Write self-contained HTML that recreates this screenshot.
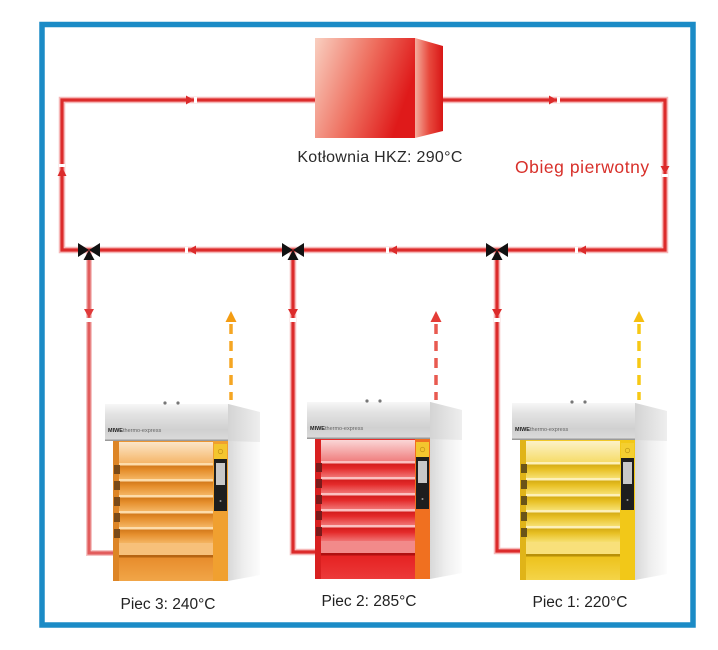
<!DOCTYPE html>
<html><head><meta charset="utf-8"><style>
html,body{margin:0;padding:0;background:#fff;}
svg{display:block;}
text{font-family:"Liberation Sans",sans-serif;}
</style></head><body>
<svg width="718" height="650" viewBox="0 0 718 650" xmlns="http://www.w3.org/2000/svg">
<defs>
  <linearGradient id="bf" x1="0" y1="0" x2="1" y2="0.35">
    <stop offset="0" stop-color="#f9cfc0"/><stop offset="0.55" stop-color="#ee6e5e"/><stop offset="1" stop-color="#df1a1a"/>
  </linearGradient>
  <linearGradient id="bs" x1="0" y1="0" x2="1" y2="0">
    <stop offset="0" stop-color="#f4ae9e"/><stop offset="0.5" stop-color="#e84a3e"/><stop offset="1" stop-color="#d81616"/>
  </linearGradient>
  <linearGradient id="hood" x1="0" y1="0" x2="0" y2="1">
    <stop offset="0" stop-color="#f7f7f7"/><stop offset="0.25" stop-color="#e4e4e4"/><stop offset="0.7" stop-color="#d0d0d0"/><stop offset="1" stop-color="#dcdcdc"/>
  </linearGradient>
  <linearGradient id="hoodside" x1="0" y1="0" x2="1" y2="0">
    <stop offset="0" stop-color="#d4d4d4"/><stop offset="1" stop-color="#eeeeee"/>
  </linearGradient>
  <linearGradient id="side" x1="0" y1="0" x2="1" y2="0">
    <stop offset="0" stop-color="#d8d8d8"/><stop offset="0.5" stop-color="#efefef"/><stop offset="1" stop-color="#fcfcfc"/>
  </linearGradient>
  <linearGradient id="o3top" x1="0" y1="0" x2="0" y2="1"><stop offset="0" stop-color="#fce6c8"/><stop offset="1" stop-color="#f5b66a"/></linearGradient>
  <linearGradient id="o3deck" x1="0" y1="0" x2="0" y2="1"><stop offset="0" stop-color="#c96d12"/><stop offset="0.45" stop-color="#e58e2c"/><stop offset="1" stop-color="#f4b462"/></linearGradient>
  <linearGradient id="o3bot" x1="0" y1="0" x2="0" y2="1"><stop offset="0" stop-color="#e78c2c"/><stop offset="1" stop-color="#f1a648"/></linearGradient>
  <linearGradient id="o2top" x1="0" y1="0" x2="0" y2="1"><stop offset="0" stop-color="#fad6d6"/><stop offset="1" stop-color="#f08080"/></linearGradient>
  <linearGradient id="o2deck" x1="0" y1="0" x2="0" y2="1"><stop offset="0" stop-color="#c81414"/><stop offset="0.45" stop-color="#e42a2a"/><stop offset="1" stop-color="#f07272"/></linearGradient>
  <linearGradient id="o2bot" x1="0" y1="0" x2="0" y2="1"><stop offset="0" stop-color="#e52222"/><stop offset="1" stop-color="#ec3a3a"/></linearGradient>
  <linearGradient id="o1top" x1="0" y1="0" x2="0" y2="1"><stop offset="0" stop-color="#fcf2c8"/><stop offset="1" stop-color="#f6dc6a"/></linearGradient>
  <linearGradient id="o1deck" x1="0" y1="0" x2="0" y2="1"><stop offset="0" stop-color="#caa00c"/><stop offset="0.45" stop-color="#e8c024"/><stop offset="1" stop-color="#f6e070"/></linearGradient>
  <linearGradient id="o1bot" x1="0" y1="0" x2="0" y2="1"><stop offset="0" stop-color="#edc21c"/><stop offset="1" stop-color="#f4d448"/></linearGradient>
</defs>

<rect x="42" y="24.5" width="651" height="600.5" fill="none" stroke="#1b8bc6" stroke-width="5.5"/>

<g fill="none" stroke="#f6b8b8" stroke-width="6.5" stroke-linejoin="miter">
  <path d="M316 100 H62 V250 H665 V100 H443"/>
  <path d="M293 250 V552 H315"/>
  <path d="M497 250 V551 H520"/>
</g>
<g fill="none" stroke="#f4c4c4" stroke-width="6">
  <path d="M89 250 V553 H113"/>
</g>
<g fill="none" stroke="#dc2b2b" stroke-width="3.2" stroke-linejoin="miter">
  <path d="M316 100 H62 V250 H665 V100 H443"/>
  <path d="M293 250 V552 H315"/>
  <path d="M497 250 V551 H520"/>
</g>
<path d="M89 250 V553 H113" fill="none" stroke="#e25d5d" stroke-width="3.2"/>

<g fill="#dc2b2b">
  <rect x="194" y="97" width="3" height="6" fill="#fff"/>
  <polygon points="186,95.5 194,100 186,104.5"/>
  <rect x="557" y="97" width="3" height="6" fill="#fff"/>
  <polygon points="549,95.5 557,100 549,104.5"/>
  <rect x="59" y="164" width="6" height="3" fill="#fff"/>
  <polygon points="57.5,176 66.5,176 62,167"/>
  <rect x="662" y="174" width="6" height="3" fill="#fff"/>
  <polygon points="660.5,166 669.5,166 665,174"/>
  <rect x="185" y="247" width="3" height="6" fill="#fff"/>
  <polygon points="196,245.5 188,250 196,254.5"/>
  <rect x="386" y="247" width="3" height="6" fill="#fff"/>
  <polygon points="397,245.5 389,250 397,254.5"/>
  <rect x="575" y="247" width="3" height="6" fill="#fff"/>
  <polygon points="586,245.5 578,250 586,254.5"/>
  <rect x="86" y="318" width="6" height="4" fill="#fff"/>
  <polygon points="84,309 94,309 89,318" fill="#e03a3a"/>
  <rect x="290" y="318" width="6" height="4" fill="#fff"/>
  <polygon points="288,309 298,309 293,318"/>
  <rect x="494" y="318" width="6" height="4" fill="#fff"/>
  <polygon points="492,309 502,309 497,318"/>
</g>

<g fill="#111">
  <polygon points="78,243 78,257 89,250"/><polygon points="100,243 100,257 89,250"/><polygon points="89,250 83.5,260 94.5,260"/>
  <polygon points="282,243 282,257 293,250"/><polygon points="304,243 304,257 293,250"/><polygon points="293,250 287.5,260 298.5,260"/>
  <polygon points="486,243 486,257 497,250"/><polygon points="508,243 508,257 497,250"/><polygon points="497,250 491.5,260 502.5,260"/>
</g>

<polygon points="415,38 443,46 443,131 415,138" fill="url(#bs)"/>
<rect x="315" y="38" width="100" height="100" fill="url(#bf)"/>
<text x="380" y="162" font-size="16" fill="#2a2a2a" text-anchor="middle" letter-spacing="0.3">Kotłownia HKZ: 290°C</text>
<text x="515" y="173" font-size="17.5" fill="#d8302a" letter-spacing="0.55">Obieg pierwotny</text>

<path d="M231 324 V400" stroke="#f5a623" stroke-width="3.5" stroke-dasharray="10 7" fill="none"/>
<polygon points="225.5,322 236.5,322 231,311" fill="#f39c12"/>
<path d="M436 324 V400" stroke="#e85a50" stroke-width="3.5" stroke-dasharray="10 7" fill="none"/>
<polygon points="430.5,322 441.5,322 436,311" fill="#e43c36"/>
<path d="M639 324 V400" stroke="#f7c815" stroke-width="3.5" stroke-dasharray="10 7" fill="none"/>
<polygon points="633.5,322 644.5,322 639,311" fill="#f5be10"/>

<g transform="translate(105,404)">
  <polygon points="123,0 155,8 155,171 123,177" fill="url(#side)"/>
  <polygon points="123,0 155,8 155,38 123,37" fill="url(#hoodside)"/>
  <rect x="0" y="0" width="123" height="37" fill="url(#hood)"/>
  <rect x="0" y="35.5" width="123" height="1.5" fill="#9a9a9a"/>
  <circle cx="60" cy="-1" r="1.6" fill="#777"/><circle cx="73" cy="-1" r="1.6" fill="#777"/>
  <text x="3" y="28" font-size="5.5" fill="#666"><tspan font-weight="bold" fill="#222">MIWE</tspan>thermo-express</text>
  <rect x="8" y="37" width="100" height="140" fill="#eb9632"/>
  <rect x="8" y="37" width="6" height="140" fill="#dd8526"/>
  <rect x="14" y="38" width="94" height="21" fill="url(#o3top)"/>
  <g>
    <rect x="14" y="59" width="94" height="16" fill="url(#o3deck)"/><rect x="14" y="59" width="94" height="2.5" fill="#fddcaa"/><rect x="9" y="61" width="6" height="9" fill="#7a4a18"/>
    <rect x="14" y="75" width="94" height="16" fill="url(#o3deck)"/><rect x="14" y="75" width="94" height="2.5" fill="#fddcaa"/><rect x="9" y="77" width="6" height="9" fill="#7a4a18"/>
    <rect x="14" y="91" width="94" height="16" fill="url(#o3deck)"/><rect x="14" y="91" width="94" height="2.5" fill="#fddcaa"/><rect x="9" y="93" width="6" height="9" fill="#7a4a18"/>
    <rect x="14" y="107" width="94" height="16" fill="url(#o3deck)"/><rect x="14" y="107" width="94" height="2.5" fill="#fddcaa"/><rect x="9" y="109" width="6" height="9" fill="#7a4a18"/>
    <rect x="14" y="123" width="94" height="16" fill="url(#o3deck)"/><rect x="14" y="123" width="94" height="2.5" fill="#fddcaa"/><rect x="9" y="125" width="6" height="9" fill="#7a4a18"/>
  </g>
  <rect x="14" y="139" width="94" height="12" fill="#f7c07a"/>
  <rect x="14" y="151" width="94" height="2.5" fill="#b66412"/>
  <rect x="14" y="153.5" width="94" height="23.5" fill="url(#o3bot)"/>
  <rect x="108" y="37" width="15" height="140" fill="#f0a030"/>
  <rect x="109" y="40" width="13" height="15" fill="#f4c52e"/>
  <circle cx="115.5" cy="47.5" r="2.2" fill="none" stroke="#c8981a" stroke-width="0.8"/>
  <rect x="109" y="55" width="13" height="52" fill="#1e1e1e"/>
  <rect x="111" y="59" width="9" height="22" fill="#c8c8c8"/>
  <circle cx="115.5" cy="97" r="1" fill="#999"/>
</g>

<g transform="translate(307,402)">
  <polygon points="123,0 155,8 155,171 123,177" fill="url(#side)"/>
  <polygon points="123,0 155,8 155,38 123,37" fill="url(#hoodside)"/>
  <rect x="0" y="0" width="123" height="37" fill="url(#hood)"/>
  <rect x="0" y="35.5" width="123" height="1.5" fill="#9a9a9a"/>
  <circle cx="60" cy="-1" r="1.6" fill="#777"/><circle cx="73" cy="-1" r="1.6" fill="#777"/>
  <text x="3" y="28" font-size="5.5" fill="#666"><tspan font-weight="bold" fill="#222">MIWE</tspan>thermo-express</text>
  <rect x="8" y="37" width="100" height="140" fill="#e6302c"/>
  <rect x="8" y="37" width="6" height="140" fill="#d82020"/>
  <rect x="14" y="38" width="94" height="21" fill="url(#o2top)"/>
  <g>
    <rect x="14" y="59" width="94" height="16" fill="url(#o2deck)"/><rect x="14" y="59" width="94" height="2.5" fill="#fbc0c0"/><rect x="9" y="61" width="6" height="9" fill="#7a1a1a"/>
    <rect x="14" y="75" width="94" height="16" fill="url(#o2deck)"/><rect x="14" y="75" width="94" height="2.5" fill="#fbc0c0"/><rect x="9" y="77" width="6" height="9" fill="#7a1a1a"/>
    <rect x="14" y="91" width="94" height="16" fill="url(#o2deck)"/><rect x="14" y="91" width="94" height="2.5" fill="#fbc0c0"/><rect x="9" y="93" width="6" height="9" fill="#7a1a1a"/>
    <rect x="14" y="107" width="94" height="16" fill="url(#o2deck)"/><rect x="14" y="107" width="94" height="2.5" fill="#fbc0c0"/><rect x="9" y="109" width="6" height="9" fill="#7a1a1a"/>
    <rect x="14" y="123" width="94" height="16" fill="url(#o2deck)"/><rect x="14" y="123" width="94" height="2.5" fill="#fbc0c0"/><rect x="9" y="125" width="6" height="9" fill="#7a1a1a"/>
  </g>
  <rect x="14" y="139" width="94" height="12" fill="#f28a8a"/>
  <rect x="14" y="151" width="94" height="2.5" fill="#b01010"/>
  <rect x="14" y="153.5" width="94" height="23.5" fill="url(#o2bot)"/>
  <rect x="108" y="37" width="15" height="140" fill="#f07020"/>
  <rect x="109" y="40" width="13" height="15" fill="#f4c52e"/>
  <circle cx="115.5" cy="47.5" r="2.2" fill="none" stroke="#c8981a" stroke-width="0.8"/>
  <rect x="109" y="55" width="13" height="52" fill="#1e1e1e"/>
  <rect x="111" y="59" width="9" height="22" fill="#c8c8c8"/>
  <circle cx="115.5" cy="97" r="1" fill="#999"/>
</g>

<g transform="translate(512,403)">
  <polygon points="123,0 155,8 155,171 123,177" fill="url(#side)"/>
  <polygon points="123,0 155,8 155,38 123,37" fill="url(#hoodside)"/>
  <rect x="0" y="0" width="123" height="37" fill="url(#hood)"/>
  <rect x="0" y="35.5" width="123" height="1.5" fill="#9a9a9a"/>
  <circle cx="60" cy="-1" r="1.6" fill="#777"/><circle cx="73" cy="-1" r="1.6" fill="#777"/>
  <text x="3" y="28" font-size="5.5" fill="#666"><tspan font-weight="bold" fill="#222">MIWE</tspan>thermo-express</text>
  <rect x="8" y="37" width="100" height="140" fill="#f0c828"/>
  <rect x="8" y="37" width="6" height="140" fill="#e0b418"/>
  <rect x="14" y="38" width="94" height="21" fill="url(#o1top)"/>
  <g>
    <rect x="14" y="59" width="94" height="16" fill="url(#o1deck)"/><rect x="14" y="59" width="94" height="2.5" fill="#fdf0b8"/><rect x="9" y="61" width="6" height="9" fill="#6a5418"/>
    <rect x="14" y="75" width="94" height="16" fill="url(#o1deck)"/><rect x="14" y="75" width="94" height="2.5" fill="#fdf0b8"/><rect x="9" y="77" width="6" height="9" fill="#6a5418"/>
    <rect x="14" y="91" width="94" height="16" fill="url(#o1deck)"/><rect x="14" y="91" width="94" height="2.5" fill="#fdf0b8"/><rect x="9" y="93" width="6" height="9" fill="#6a5418"/>
    <rect x="14" y="107" width="94" height="16" fill="url(#o1deck)"/><rect x="14" y="107" width="94" height="2.5" fill="#fdf0b8"/><rect x="9" y="109" width="6" height="9" fill="#6a5418"/>
    <rect x="14" y="123" width="94" height="16" fill="url(#o1deck)"/><rect x="14" y="123" width="94" height="2.5" fill="#fdf0b8"/><rect x="9" y="125" width="6" height="9" fill="#6a5418"/>
  </g>
  <rect x="14" y="139" width="94" height="12" fill="#f8e07a"/>
  <rect x="14" y="151" width="94" height="2.5" fill="#b89008"/>
  <rect x="14" y="153.5" width="94" height="23.5" fill="url(#o1bot)"/>
  <rect x="108" y="37" width="15" height="140" fill="#f2c818"/>
  <rect x="109" y="40" width="13" height="15" fill="#f4cf30"/>
  <circle cx="115.5" cy="47.5" r="2.2" fill="none" stroke="#c8a01a" stroke-width="0.8"/>
  <rect x="109" y="55" width="13" height="52" fill="#1e1e1e"/>
  <rect x="111" y="59" width="9" height="22" fill="#c8c8c8"/>
  <circle cx="115.5" cy="97" r="1" fill="#999"/>
</g>

<text x="168" y="609" font-size="15.5" fill="#222" text-anchor="middle">Piec 3: 240°C</text>
<text x="369" y="606" font-size="15.5" fill="#222" text-anchor="middle">Piec 2: 285°C</text>
<text x="580" y="607" font-size="15.5" fill="#222" text-anchor="middle">Piec 1: 220°C</text>
</svg>
</body></html>
